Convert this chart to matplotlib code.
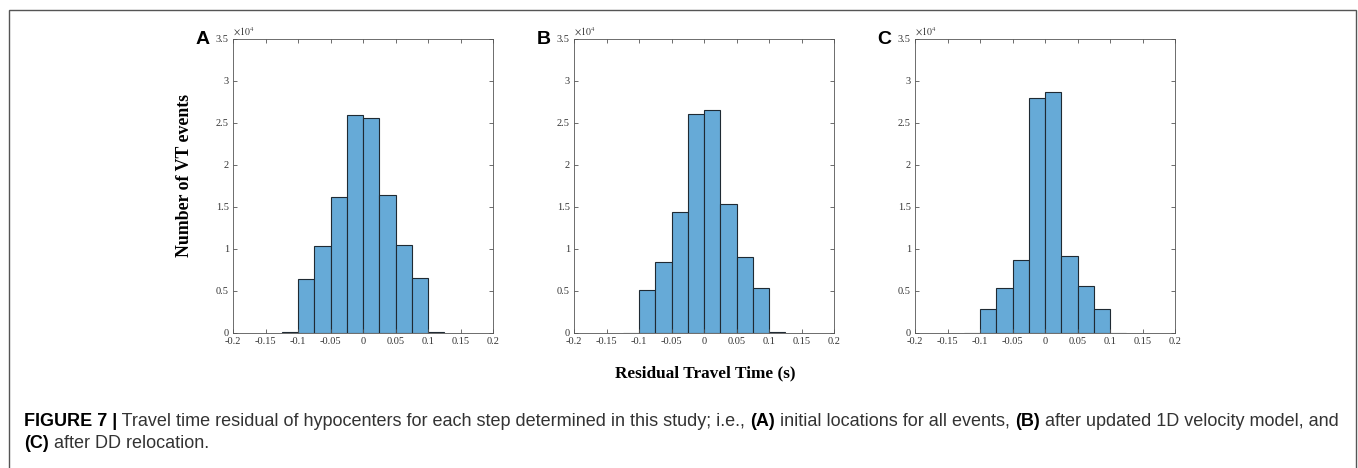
import matplotlib.pyplot as plt
from matplotlib.patches import Rectangle

# histogram bins (s) and counts per bin
bin_edges = [-0.125, -0.1, -0.075, -0.05, -0.025, 0.0, 0.025, 0.05, 0.075, 0.1, 0.125]
counts_a = [60, 6400, 10300, 16200, 25900, 25600, 16400, 10500, 6500, 80]
counts_b = [40, 5100, 8500, 14400, 26100, 26600, 15300, 9100, 5300, 80]
counts_c = [30, 2850, 5400, 8700, 28000, 28700, 9200, 5650, 2850, 30]
panel_letters = ["A", "B", "C"]
x_ticks = [-0.2, -0.15, -0.1, -0.05, 0, 0.05, 0.1, 0.15, 0.2]
x_ticklabels = ["-0.2", "-0.15", "-0.1", "-0.05", "0", "0.05", "0.1", "0.15", "0.2"]
y_ticks = [0, 5000, 10000, 15000, 20000, 25000, 30000, 35000]
y_ticklabels = ["0", "0.5", "1", "1.5", "2", "2.5", "3", "3.5"]

serif = "Liberation Serif"
sans = "Liberation Sans"
bar_col = "#66AAD7"
cap_size = 13.0

fig = plt.figure(figsize=(13.58, 4.68), dpi=100)

# outer frame of the figure box
fig.patches.append(Rectangle((8.5 / 1358, -0.05), (1347 / 1358), 1.05 - 10 / 468,
                             transform=fig.transFigure, fill=False,
                             edgecolor="#555555", linewidth=1.0))

lefts = [233 / 1358, 574 / 1358, 915 / 1358]
w = 260 / 1358
b = 1 - 333 / 468
h = (333 - 39) / 468

for i, counts in enumerate([counts_a, counts_b, counts_c]):
    ax = fig.add_axes([lefts[i], b, w, h])
    centers = [(bin_edges[k] + bin_edges[k + 1]) / 2 for k in range(len(counts))]
    ax.bar(centers, counts, width=0.025, color=bar_col, edgecolor="#1f2a33",
           linewidth=0.8)
    ax.set_xlim(-0.2, 0.2)
    ax.set_ylim(0, 35000)
    ax.set_xticks(x_ticks)
    ax.set_xticklabels(x_ticklabels, fontfamily=serif, fontsize=7.5, color="#333333")
    ax.set_yticks(y_ticks)
    ax.set_yticklabels(y_ticklabels, fontfamily=serif, fontsize=7.5, color="#333333")
    ax.tick_params(direction="in", length=3, width=0.6, color="#555555",
                   top=True, right=True, pad=3)
    for s in ax.spines.values():
        s.set_color("#555555")
        s.set_linewidth(0.6)
    ax.text(0.0, 1.003, r"$\times10^4$", transform=ax.transAxes, fontsize=7,
            color="#333333", ha="left", va="bottom", math_fontfamily="stix")
    ax.text(-0.145, 1.0, panel_letters[i], transform=ax.transAxes, fontsize=14,
            fontweight="bold", fontfamily=sans, ha="left", va="center")
    if i == 0:
        ax.set_ylabel("Number of VT events", fontfamily=serif, fontsize=12.8,
                      fontweight="bold")
        ax.yaxis.set_label_coords(-0.155, 0.535)

fig.text(0.519, 1 - 373 / 468, "Residual Travel Time (s)", fontfamily=serif,
         fontsize=12.4, fontweight="bold", ha="center", va="center")

# caption, written piece by piece so bold and regular parts line up
cap_y1 = 1 - 426 / 468
cap_y2 = 1 - 448 / 468


def caption_line(pieces, y):
    x = 24 / 1358
    for s, bold in pieces:
        tt = fig.text(x, y, s, fontfamily=sans, fontsize=cap_size,
                      fontweight="bold" if bold else "normal", ha="left", va="baseline",
                      color="black" if bold else "#333333")
        fig.canvas.draw()
        x = tt.get_window_extent().x1 / 1358


caption_line([("FIGURE 7 |", True),
              (" Travel time residual of hypocenters for each step determined in this study; i.e., ", False),
              ("(A)", True), (" initial locations for all events, ", False), ("(B)", True),
              (" after updated 1D velocity model, and", False)], cap_y1)
caption_line([("(C)", True), (" after DD relocation.", False)], cap_y2)

fig.savefig("out.png", dpi=100)
